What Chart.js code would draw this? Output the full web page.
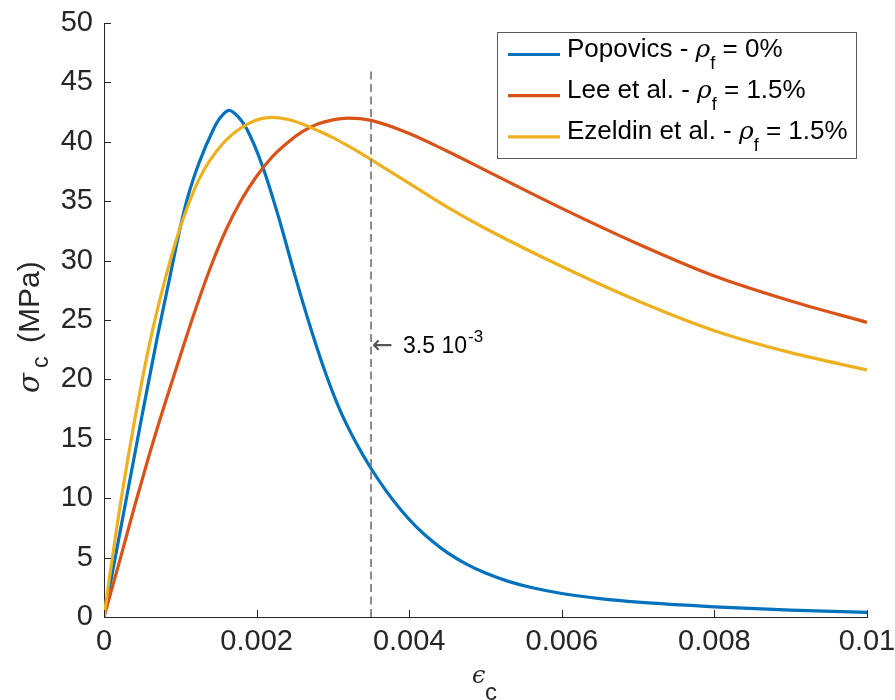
<!DOCTYPE html>
<html><head><meta charset="utf-8">
<script src="https://cdn.jsdelivr.net/npm/chart.js@4/dist/chart.umd.min.js"></script>
<style>html,body{margin:0;padding:0;background:#fff;}canvas{display:block;}</style>
</head><body>
<canvas id="c" width="895" height="700"></canvas>
<script>
// ---- data ----
const strainPopovics = [0, 0.0001, 0.0003, 0.0005, 0.0007, 0.00085, 0.001, 0.0011, 0.00125, 0.00143, 0.00152, 0.00164, 0.00176, 0.00187, 0.00208, 0.0023, 0.0025, 0.0027, 0.0029, 0.0031, 0.0033, 0.0035, 0.0037, 0.0039, 0.0041, 0.0043, 0.0045, 0.00475, 0.005, 0.0053, 0.0056, 0.006, 0.0065, 0.007, 0.008, 0.009, 0.01];
const stressPopovics = [0, 3.4, 10.2, 17.0, 23.6, 28.2, 32.8, 35.4, 38.3, 41.0, 42.0, 42.65, 42.1, 41.1, 37.9, 33.4, 28.8, 24.5, 20.6, 17.3, 14.7, 12.5, 10.6, 8.95, 7.55, 6.4, 5.42, 4.45, 3.7, 3.0, 2.48, 1.98, 1.55, 1.25, 0.86, 0.58, 0.39];

const strainLee = [0, 0.0002, 0.0004, 0.0006, 0.0008, 0.001, 0.0012, 0.0014, 0.0016, 0.0018, 0.002, 0.0022, 0.0024, 0.0026, 0.0028, 0.003, 0.0032, 0.0035, 0.004, 0.0045, 0.005, 0.006, 0.007, 0.008, 0.009, 0.01];
const stressLee = [0, 4.6, 9.3, 13.8, 18.0, 22.0, 25.9, 29.5, 32.6, 35.1, 37.1, 38.7, 39.9, 40.85, 41.5, 41.85, 42.0, 41.8, 40.7, 39.2, 37.6, 34.4, 31.4, 28.7, 26.6, 24.8];

const strainEzeldin = [0, 0.0001, 0.0002, 0.0004, 0.0006, 0.0008, 0.001, 0.00125, 0.00155, 0.00187, 0.0022, 0.0024, 0.0026, 0.0028, 0.003, 0.0032, 0.0034, 0.0036, 0.0038, 0.004, 0.0045, 0.005, 0.006, 0.007, 0.008, 0.009, 0.01];
const stressEzeldin = [0, 4.6, 8.9, 16.5, 23.1, 28.4, 32.8, 36.9, 39.8, 41.45, 42.05, 41.9, 41.5, 40.95, 40.35, 39.65, 38.9, 38.1, 37.3, 36.5, 34.5, 32.7, 29.5, 26.6, 24.1, 22.25, 20.8];

const refStrain = [0.0035, 0.0035];
const refStress = [0, 46.2];

const xTickLabels = ['0', '0.002', '0.004', '0.006', '0.008', '0.01'];
const yTickValues = [0, 5, 10, 15, 20, 25, 30, 35, 40, 45, 50];

const seriesNames = ['Popovics - ρf = 0%', 'Lee et al. - ρf = 1.5%', 'Ezeldin et al. - ρf = 1.5%'];
const legendPrefix = ['Popovics - ', 'Lee et al. - ', 'Ezeldin et al. - '];
const legendSuffix = [' = 0%', ' = 1.5%', ' = 1.5%'];
const annotationText = '3.5 10';
const annotationSup = '-3';

// ---- styling ----
const SANS = '"Liberation Sans", Arial, Helvetica, sans-serif';
const SERIF = '"DejaVu Serif", "Liberation Serif", serif';
const AX = '#262626';
const colors = ['#0072BD', '#D95319', '#EDB120'];

function pts(xs, ys) { return xs.map((x, i) => ({ x: x, y: ys[i] })); }

function drawParts(ctx, x, y, parts) {
  let cx = x;
  for (const p of parts) {
    ctx.font = p.font;
    ctx.fillText(p.t, cx, y + (p.dy || 0));
    cx += ctx.measureText(p.t).width + (p.gap || 0);
  }
  return cx;
}

const inwardTicks = {
  id: 'inwardTicks',
  afterDatasetsDraw(chart) {
    const ctx = chart.ctx, xs = chart.scales.x, ys = chart.scales.y;
    const a = chart.chartArea;
    ctx.save();
    ctx.strokeStyle = AX; ctx.lineWidth = 1;
    ctx.beginPath();
    xs.ticks.forEach(t => {
      const px = Math.round(xs.getPixelForValue(t.value)) + 0.5;
      ctx.moveTo(px, a.bottom); ctx.lineTo(px, a.bottom - 7);
    });
    ys.ticks.forEach(t => {
      const py = Math.round(ys.getPixelForValue(t.value)) + 0.5;
      ctx.moveTo(a.left, py); ctx.lineTo(a.left + 7, py);
    });
    ctx.stroke();
    ctx.restore();
  }
};

const decorations = {
  id: 'decorations',
  afterDraw(chart) {
    const ctx = chart.ctx, xs = chart.scales.x, ys = chart.scales.y;
    ctx.save();
    ctx.textBaseline = 'alphabetic';
    ctx.textAlign = 'left';

    // annotation
    const ax = xs.getPixelForValue(refStrain[0]);
    const ay = ys.getPixelForValue(22.9);
    ctx.font = '25px "DejaVu Sans", sans-serif';
    ctx.fillStyle = '#555';
    ctx.fillText('←', ax + 1, ay + 8);
    ctx.fillStyle = '#000';
    ctx.font = '23px ' + SANS;
    ctx.fillText(annotationText, ax + 32, ay + 8);
    const w = ctx.measureText(annotationText).width;
    ctx.font = '17px ' + SANS;
    ctx.fillText(annotationSup, ax + 32 + w + 1, ay - 3);

    // legend
    const L = { x: 497.5, y: 32.5, w: 359, h: 126 };
    ctx.fillStyle = '#fff';
    ctx.fillRect(L.x, L.y, L.w, L.h);
    ctx.strokeStyle = '#5a5a5a'; ctx.lineWidth = 1;
    ctx.strokeRect(L.x, L.y, L.w, L.h);
    chart.data.datasets.slice(0, 3).forEach((ds, i) => {
      const ly = 54.5 + i * 41.2;
      ctx.strokeStyle = ds.borderColor; ctx.lineWidth = 3.2;
      ctx.beginPath(); ctx.moveTo(508, ly); ctx.lineTo(560, ly); ctx.stroke();
      ctx.fillStyle = '#000';
      drawParts(ctx, 567, ly + 2.5, [
        { t: legendPrefix[i], font: '26px ' + SANS },
        { t: 'ρ', font: 'italic 25px ' + SERIF },
        { t: 'f', font: '18px ' + SANS, dy: 12 },
        { t: legendSuffix[i], font: '26px ' + SANS }
      ]);
    });

    // x title
    ctx.fillStyle = AX;
    ctx.font = 'italic 24px ' + SERIF;
    ctx.fillText('ϵ', 472, 683);
    ctx.font = '24px ' + SANS;
    ctx.fillText('c', 485, 700);

    // y title
    ctx.save();
    ctx.translate(39, 393);
    ctx.rotate(-Math.PI / 2);
    ctx.font = 'italic 29px ' + SERIF;
    ctx.fillText('σ', 0, 0);
    ctx.font = '23px ' + SANS;
    ctx.fillText('c', 25, 9);
    ctx.font = '30px ' + SANS;
    ctx.fillText('(MPa)', 50, 0);
    ctx.restore();

    ctx.restore();
  }
};

new Chart(document.getElementById('c'), {
  type: 'line',
  data: {
    datasets: [
      { label: seriesNames[0], data: pts(strainPopovics, stressPopovics), borderColor: colors[0], borderWidth: 3.2, order: 4 },
      { label: seriesNames[1], data: pts(strainLee, stressLee), borderColor: colors[1], borderWidth: 3.2, order: 3 },
      { label: seriesNames[2], data: pts(strainEzeldin, stressEzeldin), borderColor: colors[2], borderWidth: 3.2, order: 2 },
      { label: 'ref', data: pts(refStrain, refStress), borderColor: '#808080', borderWidth: 1.8, borderDash: [8, 4.5], order: 1, cubicInterpolationMode: 'default', tension: 0 }
    ]
  },
  options: {
    responsive: false,
    animation: false,
    devicePixelRatio: 1,
    layout: { padding: { left: 0, right: 28, top: 23, bottom: 0 } },
    elements: { point: { radius: 0 }, line: { cubicInterpolationMode: 'monotone', fill: false } },
    plugins: { legend: { display: false }, tooltip: { enabled: false } },
    scales: {
      x: {
        type: 'linear', min: 0, max: 0.01,
        afterFit(s) { s.height = 83; s.paddingLeft = 0; s.paddingRight = 0; },
        ticks: { stepSize: 0.002, color: AX, padding: 8, maxRotation: 0, autoSkip: false,
          font: { family: SANS, size: 29 },
          callback: (v, i) => xTickLabels[i] },
        grid: { display: true, drawOnChartArea: false, drawTicks: false },
        border: { display: true, color: AX, width: 1 }
      },
      y: {
        type: 'linear', min: 0, max: 50,
        afterFit(s) { s.width = 104; s.paddingTop = 0; s.paddingBottom = 0; },
        afterBuildTicks(s) { s.ticks = yTickValues.map(v => ({ value: v })); },
        ticks: { color: AX, padding: 11, font: { family: SANS, size: 29 },
          callback: v => String(v) },
        grid: { display: true, drawOnChartArea: false, drawTicks: false },
        border: { display: true, color: AX, width: 1 }
      }
    }
  },
  plugins: [inwardTicks, decorations]
});
</script>
</body></html>
